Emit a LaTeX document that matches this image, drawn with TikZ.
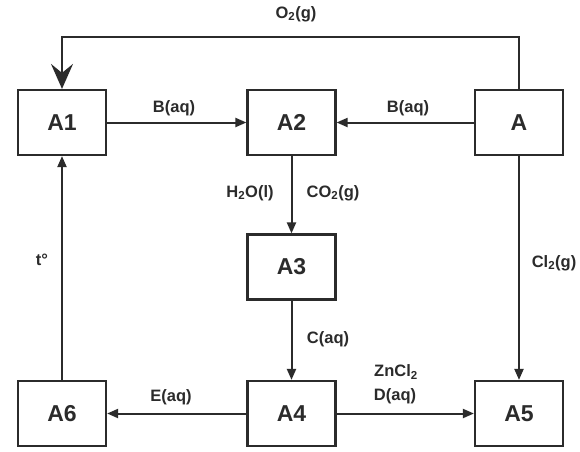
\documentclass[tikz,border=0pt]{standalone}
\usepackage{fontspec}
\setmainfont{Liberation Sans}
\usetikzlibrary{arrows.meta}
\definecolor{ink}{HTML}{2B2B2B}
\begin{document}
\begin{tikzpicture}[x=1pt,y=-1pt,
  box/.style={draw=ink, line width=2.2pt, minimum width=88pt, minimum height=65pt, inner sep=0pt, text=ink, font=\fontsize{23}{23}\selectfont\bfseries},
  lbl/.style={font=\fontsize{16.5}{16.5}\selectfont\bfseries, inner sep=0pt, text=ink},
  conn/.style={draw=ink, line width=2pt, -{Triangle[length=11pt,width=9pt]}},
  bigconn/.style={draw=ink, line width=2pt, -{Stealth[length=25pt,width=22pt,inset=9pt]}},
]
\fill[white] (0,0) rectangle (580,451);
\useasboundingbox (0,0) rectangle (580,451);
\node[box] (A1) at (62,122.5) {A1};
\node[box] (A2) at (291.5,122.5) {A2};
\node[box] (A) at (519,122.5) {A};
\node[box] (A3) at (291.5,267) {A3};
\node[box] (A6) at (62,413.5) {A6};
\node[box] (A4) at (291.5,413.5) {A4};
\node[box] (A5) at (519,413.5) {A5};

\coordinate (tr) at (519,37);
\coordinate (tl) at (62,37);
\draw[bigconn] (A.north) -- (tr) -- (tl) -- (A1.north);
\draw[conn] (A1.east) -- (A2.west);
\draw[conn] (A.west) -- (A2.east);
\draw[conn] (A2.south) -- (A3.north);
\draw[conn] (A3.south) -- (A4.north);
\draw[conn] (A.south) -- (A5.north);
\draw[conn] (A4.east) -- (A5.west);
\draw[conn] (A4.west) -- (A6.east);
\draw[conn] (A6.north) -- (A1.south);

\node[lbl] (lO2) at (296,14) {O\textsubscript{2}(g)};
\node[lbl] (lB1) at (174,108) {B(aq)};
\node[lbl] (lB2) at (408,108) {B(aq)};
\node[lbl] (lH2O) at (250,193) {H\textsubscript{2}O(l)};
\node[lbl] (lCO2) at (333,193) {CO\textsubscript{2}(g)};
\node[lbl] (lt) at (42,260) {t°};
\node[lbl] (lCl2) at (554,263) {Cl\textsubscript{2}(g)};
\node[lbl] (lC) at (328,339) {C(aq)};
\node[lbl] (lZn) at (396,372) {ZnCl\textsubscript{2}};
\node[lbl] (lD) at (395,396) {D(aq)};
\node[lbl] (lE) at (171,397) {E(aq)};
\end{tikzpicture}
\end{document}
